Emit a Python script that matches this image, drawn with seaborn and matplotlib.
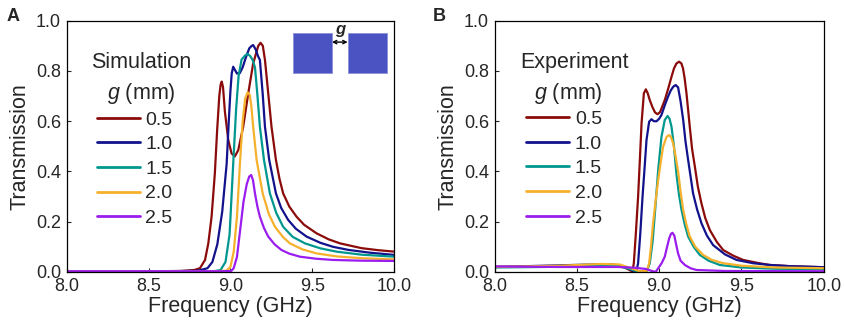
import numpy as np
import pandas as pd
import matplotlib
matplotlib.use("Agg")
import matplotlib.pyplot as plt
from matplotlib.patches import Rectangle
import seaborn as sns

# ---------------- data ----------------
gaps = ["0.5", "1.0", "1.5", "2.0", "2.5"]
colors = ["#8b0b0b", "#12128c", "#00978f", "#f5b02c", "#9b1cee"]

# Panel A: simulation
sim_f_05 = [8.0, 8.5, 8.7, 8.78, 8.814, 8.845, 8.865, 8.885, 8.905, 8.919, 8.932, 8.94, 8.947, 8.955, 8.966,
            8.987, 9.007, 9.027, 9.048, 9.078, 9.109, 9.139, 9.17, 9.184, 9.198, 9.211, 9.231, 9.251, 9.278,
            9.3, 9.322, 9.36, 9.404, 9.45, 9.526, 9.6, 9.669, 9.8, 9.9, 10.0]
sim_t_05 = [0.003, 0.003, 0.004, 0.008, 0.015, 0.048, 0.114, 0.22, 0.393, 0.565, 0.70, 0.745, 0.758, 0.735, 0.64,
            0.525, 0.472, 0.46, 0.485, 0.578, 0.711, 0.83, 0.9, 0.912, 0.9, 0.844, 0.711, 0.578, 0.446,
            0.37, 0.313, 0.26, 0.22, 0.188, 0.154, 0.13, 0.114, 0.095, 0.087, 0.081]

sim_f_10 = [8.0, 8.6, 8.8, 8.86, 8.89, 8.92, 8.95, 8.977, 8.99, 9.0, 9.008, 9.017, 9.027, 9.04, 9.058, 9.075,
            9.095, 9.115, 9.13, 9.139, 9.155, 9.168, 9.18, 9.197, 9.211, 9.237, 9.278, 9.31, 9.353, 9.4,
            9.465, 9.55, 9.628, 9.72, 9.85, 10.0]
sim_t_10 = [0.003, 0.003, 0.005, 0.015, 0.04, 0.11, 0.24, 0.43, 0.6, 0.72, 0.79, 0.817, 0.805, 0.79, 0.792, 0.815,
            0.855, 0.89, 0.9, 0.903, 0.885, 0.86, 0.844, 0.711, 0.578, 0.446, 0.313, 0.255, 0.207, 0.172,
            0.141, 0.116, 0.1, 0.088, 0.077, 0.068]

sim_f_15 = [8.0, 8.6, 8.9, 8.94, 8.97, 8.995, 9.017, 9.035, 9.05, 9.068, 9.09, 9.105, 9.12, 9.135, 9.15, 9.164,
            9.18, 9.205, 9.241, 9.28, 9.322, 9.38, 9.455, 9.55, 9.648, 9.8, 10.0]
sim_t_15 = [0.003, 0.003, 0.003, 0.008, 0.04, 0.15, 0.43, 0.65, 0.78, 0.845, 0.862, 0.868, 0.86, 0.845, 0.815, 0.711,
            0.578, 0.446, 0.313, 0.235, 0.18, 0.14, 0.114, 0.094, 0.081, 0.069, 0.061]

sim_f_20 = [8.0, 8.9, 8.975, 9.0, 9.02, 9.04, 9.058, 9.075, 9.09, 9.105, 9.118, 9.128, 9.139, 9.16, 9.197, 9.235,
            9.272, 9.32, 9.363, 9.44, 9.526, 9.65, 9.8, 10.0]
sim_t_20 = [0.003, 0.003, 0.005, 0.02, 0.08, 0.22, 0.43, 0.6, 0.69, 0.715, 0.705, 0.66, 0.578, 0.446, 0.313, 0.23,
            0.18, 0.14, 0.114, 0.09, 0.074, 0.062, 0.055, 0.05]

sim_f_25 = [8.0, 8.95, 9.005, 9.02, 9.04, 9.06, 9.08, 9.1, 9.115, 9.127, 9.138, 9.15, 9.165, 9.18, 9.205, 9.231,
            9.27, 9.312, 9.36, 9.424, 9.52, 9.626, 9.8, 10.0]
sim_t_25 = [0.003, 0.003, 0.004, 0.015, 0.06, 0.17, 0.28, 0.35, 0.38, 0.386, 0.365, 0.313, 0.26, 0.22, 0.175, 0.141,
            0.11, 0.0875, 0.073, 0.061, 0.053, 0.048, 0.045, 0.044]

# Panel B: experiment
exp_f_05 = [8.0, 8.3, 8.6, 8.72, 8.79, 8.825, 8.838, 8.846, 8.858, 8.872, 8.883, 8.893, 8.907, 8.919, 8.93, 8.943,
            8.96, 8.975, 8.99, 9.005, 9.034, 9.055, 9.075, 9.09, 9.105, 9.121, 9.135, 9.145, 9.155, 9.166, 9.186,
            9.2, 9.217, 9.235, 9.257, 9.28, 9.308, 9.35, 9.389, 9.45, 9.51, 9.6, 9.672, 9.8, 10.0]
exp_t_05 = [0.02, 0.022, 0.027, 0.026, 0.018, 0.006, 0.002, 0.035, 0.15, 0.3, 0.45, 0.592, 0.711, 0.727, 0.712, 0.684,
            0.655, 0.635, 0.628, 0.636, 0.684, 0.73, 0.777, 0.81, 0.83, 0.837, 0.83, 0.81, 0.77, 0.711, 0.578,
            0.49, 0.419, 0.34, 0.273, 0.215, 0.167, 0.12, 0.0875, 0.065, 0.048, 0.036, 0.028, 0.023, 0.019]

exp_f_10 = [8.0, 8.3, 8.6, 8.72, 8.8, 8.845, 8.862, 8.872, 8.885, 8.899, 8.912, 8.923, 8.939, 8.953, 8.968, 8.984,
            9.0, 9.014, 9.035, 9.054, 9.07, 9.085, 9.1, 9.115, 9.13, 9.146, 9.16, 9.176, 9.206, 9.23, 9.257,
            9.29, 9.328, 9.4, 9.47, 9.57, 9.672, 9.8, 10.0]
exp_t_10 = [0.02, 0.025, 0.03, 0.03, 0.018, 0.004, 0.003, 0.035, 0.15, 0.3, 0.42, 0.525, 0.598, 0.608, 0.6, 0.6,
            0.61, 0.625, 0.665, 0.698, 0.722, 0.737, 0.744, 0.735, 0.68, 0.605, 0.52, 0.446, 0.313, 0.25, 0.194,
            0.145, 0.107, 0.07, 0.048, 0.035, 0.028, 0.023, 0.019]

exp_f_15 = [8.0, 8.3, 8.6, 8.75, 8.82, 8.87, 8.925, 8.943, 8.96, 8.974, 8.994, 9.014, 9.034, 9.051, 9.063, 9.075,
            9.09, 9.105, 9.12, 9.136, 9.155, 9.176, 9.21, 9.247, 9.3, 9.368, 9.5, 9.7, 10.0]
exp_t_15 = [0.018, 0.02, 0.025, 0.025, 0.012, 0.002, 0.002, 0.035, 0.12, 0.233, 0.406, 0.538, 0.605, 0.621, 0.61, 0.578,
            0.5, 0.39, 0.31, 0.247, 0.19, 0.141, 0.1, 0.068, 0.045, 0.028, 0.018, 0.013, 0.011]

exp_f_20 = [8.0, 8.4, 8.65, 8.76, 8.83, 8.88, 8.925, 8.939, 8.95, 8.963, 8.978, 8.994, 9.01, 9.024, 9.045, 9.061,
            9.073, 9.085, 9.1, 9.115, 9.13, 9.146, 9.165, 9.186, 9.22, 9.267, 9.32, 9.389, 9.5, 9.7, 10.0]
exp_t_20 = [0.02, 0.025, 0.032, 0.03, 0.015, 0.003, 0.004, 0.035, 0.1, 0.194, 0.28, 0.366, 0.44, 0.499, 0.538, 0.545,
            0.535, 0.512, 0.46, 0.4, 0.32, 0.247, 0.19, 0.141, 0.1, 0.068, 0.048, 0.035, 0.025, 0.018, 0.015]

exp_f_25 = [8.0, 8.4, 8.6, 8.75, 8.85, 8.92, 8.96, 8.98, 8.994, 9.015, 9.034, 9.05, 9.061, 9.072, 9.081, 9.092,
            9.103, 9.115, 9.13, 9.156, 9.19, 9.227, 9.4, 10.0]
exp_t_25 = [0.022, 0.02, 0.02, 0.02, 0.017, 0.012, 0.003, 0.001, 0.015, 0.035, 0.061, 0.105, 0.134, 0.152, 0.156, 0.145,
            0.11, 0.074, 0.045, 0.028, 0.015, 0.008, 0.004, 0.003]

x_ticks = [8.0, 8.5, 9.0, 9.5, 10.0]
y_ticks = [0.0, 0.2, 0.4, 0.6, 0.8, 1.0]


def frame(fs, ts):
    rows = []
    for g, f, t in zip(gaps, fs, ts):
        rows.append(pd.DataFrame({"freq": f, "trans": t, "g": g}))
    return pd.concat(rows, ignore_index=True)


df_sim = frame([sim_f_05, sim_f_10, sim_f_15, sim_f_20, sim_f_25],
               [sim_t_05, sim_t_10, sim_t_15, sim_t_20, sim_t_25])
df_exp = frame([exp_f_05, exp_f_10, exp_f_15, exp_f_20, exp_f_25],
               [exp_t_05, exp_t_10, exp_t_15, exp_t_20, exp_t_25])

# ---------------- style ----------------
sns.set_style("white")
plt.rcParams["font.family"] = ["Liberation Sans", "DejaVu Sans"]
plt.rcParams["mathtext.fontset"] = "custom"
plt.rcParams["mathtext.it"] = "Liberation Sans:italic"
plt.rcParams["mathtext.rm"] = "Liberation Sans"

fig = plt.figure(figsize=(8.44, 3.24), dpi=100)
axA = fig.add_axes([0.079, 0.1605, 0.388, 0.7755])
axB = fig.add_axes([0.586, 0.1605, 0.390, 0.7755])

palette = dict(zip(gaps, colors))

panels = [
    (axA, df_sim, "Simulation", 0.227, 0.227, 0.092, 0.41),
    (axB, df_exp, "Experiment", 0.242, 0.224, 0.096, 0.412),
]

for ax, df, title, tx1, tx2, lx, ly in panels:
    sns.lineplot(data=df, x="freq", y="trans", hue="g", hue_order=gaps, palette=palette,
                 sort=False, estimator=None, linewidth=1.6, ax=ax)
    ax.set_xlim(8.0, 10.0)
    ax.set_ylim(0.0, 1.0)
    ax.set_xticks(x_ticks)
    ax.set_xticklabels([f"{v:.1f}" for v in x_ticks])
    ax.set_yticks(y_ticks)
    ax.set_yticklabels([f"{v:.1f}" for v in y_ticks])
    ax.tick_params(direction="in", length=3, width=0.8, labelsize=13, pad=4,
                   bottom=True, left=True, top=False, right=False)
    ax.set_xlabel("Frequency (GHz)", fontsize=15.5, labelpad=1)
    ax.set_ylabel("Transmission", fontsize=15.5, labelpad=4)
    for s in ax.spines.values():
        s.set_color("black")
        s.set_linewidth(0.9)
    handles, labels = ax.get_legend_handles_labels()
    leg = ax.legend(handles, labels, loc="center left", bbox_to_anchor=(lx, ly),
                    frameon=False, fontsize=14, handlelength=2.2, handletextpad=0.3,
                    labelspacing=0.36, borderaxespad=0, borderpad=0)
    for ln in leg.get_lines():
        ln.set_linewidth(2.0)
    ax.text(tx1, 0.832, title, transform=ax.transAxes, fontsize=15.5,
            ha="center", va="center")
    ax.text(tx2, 0.712, "$g$ (mm)", transform=ax.transAxes, fontsize=15.5,
            ha="center", va="center")

# inset schematic in panel A
sq_col = "#4b52c2"
axA.add_patch(Rectangle((0.69, 0.793), 0.12, 0.157, transform=axA.transAxes,
                        facecolor=sq_col, edgecolor="#8c90d8", linewidth=0.6, zorder=5))
axA.add_patch(Rectangle((0.858, 0.793), 0.12, 0.157, transform=axA.transAxes,
                        facecolor=sq_col, edgecolor="#8c90d8", linewidth=0.6, zorder=5))
axA.annotate("", xy=(0.858, 0.915), xytext=(0.81, 0.915), xycoords="axes fraction",
             arrowprops=dict(arrowstyle="<->", color="black", lw=1.0,
                             shrinkA=0, shrinkB=0, mutation_scale=6))
axA.text(0.834, 0.935, "g", transform=axA.transAxes, fontsize=12, fontweight="bold",
         fontstyle="italic", ha="center", va="bottom")

fig.text(0.008, 0.975, "A", fontsize=13, fontweight="bold", ha="left", va="top")
fig.text(0.513, 0.975, "B", fontsize=13, fontweight="bold", ha="left", va="top")

fig.savefig("out.png", dpi=100)
